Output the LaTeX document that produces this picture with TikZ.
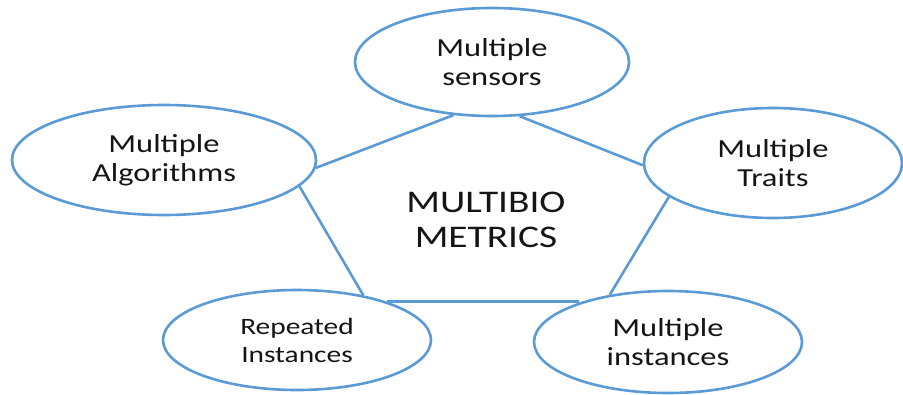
\documentclass[tikz,border=0pt]{standalone}
\usepackage{fontspec}
\setmainfont{Carlito}[FakeStretch=1.25]
\usetikzlibrary{shapes.geometric}
\definecolor{lineblue}{HTML}{5B9BD5}
\definecolor{txt}{HTML}{151515}
\tikzset{
  bubble/.style={ellipse, draw=lineblue, line width=2.6pt, fill=white, inner sep=0pt, align=center, text=txt, font=\fontsize{26}{29}\selectfont},
  link/.style={draw=lineblue, line width=2.6pt},
}
\begin{document}
\begin{tikzpicture}[x=1pt,y=-1pt]
\useasboundingbox (0,0) rectangle (903,394);
\node[bubble, minimum width=274pt, minimum height=108pt] (top) at (492,62) {Multiple\\sensors};
\node[bubble, minimum width=304pt, minimum height=110pt] (left) at (164,160) {Multiple\\Algorithms};
\node[bubble, minimum width=258pt, minimum height=110pt] (right) at (773,163) {Multiple\\Traits};
\node[bubble, minimum width=268pt, minimum height=100pt, font=\fontsize{23.5}{28}\selectfont] (bl) at (297,340) {Repeated\\Instances};
\node[bubble, minimum width=268pt, minimum height=102pt] (br) at (668,342) {Multiple\\instances};
\node[align=center, text=txt, font=\fontsize{31.5}{35}\selectfont] (center) at (486,220) {MULTIBIO\\METRICS};
\draw[link] (top.234) -- (left.357);
\draw[link] (top.297) -- (right.181);
\draw[link] (left.349) -- (bl.34);
\draw[link] (bl.23) -- (br.156 |- bl.23);
\draw[link] (right.198) -- (br.141);
\end{tikzpicture}
\end{document}
